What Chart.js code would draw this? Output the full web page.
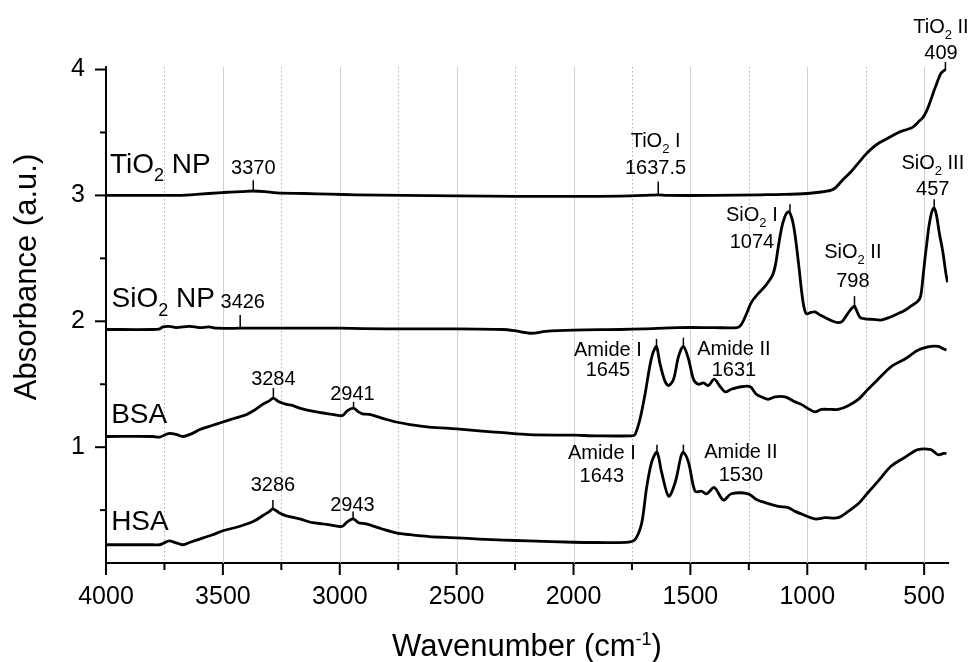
<!DOCTYPE html>
<html>
<head>
<meta charset="utf-8">
<script src="https://cdn.jsdelivr.net/npm/chart.js@4.4.1/dist/chart.umd.min.js"></script>
<style>
html, body { margin: 0; padding: 0; background: #fff; }
</style>
</head>
<body>
<canvas id="ftir" width="973" height="662"></canvas>
<script>
// spectra (wavenumber in cm-1, absorbance offset per sample)
const tio2Wn = [4000, 3800, 3700, 3640, 3560, 3480, 3420, 3370, 3320, 3270, 3150, 3044, 2930, 2725, 2500, 2235, 2000, 1800, 1700, 1637.5, 1600, 1400, 1200, 1100, 1000, 950, 900, 880, 850, 812, 780, 753, 720, 690, 660, 640, 610, 580, 550, 527, 505, 490, 475, 460, 450, 440, 428, 416, 409]
const tio2Abs = [3.0, 3.0, 3.0, 3.005, 3.015, 3.025, 3.03, 3.035, 3.03, 3.02, 3.015, 3.01, 3.005, 3.0, 2.997, 2.992, 2.992, 2.995, 3.0, 3.005, 3.0, 3.0, 3.005, 3.008, 3.015, 3.025, 3.04, 3.06, 3.12, 3.19, 3.26, 3.32, 3.38, 3.42, 3.45, 3.47, 3.50, 3.52, 3.54, 3.58, 3.62, 3.67, 3.74, 3.82, 3.87, 3.92, 3.97, 3.99, 4.0]

const sio2Wn = [4000, 3800, 3770, 3757, 3730, 3700, 3670, 3640, 3600, 3560, 3526, 3426, 3300, 3000, 2800, 2500, 2300, 2250, 2180, 2120, 2000, 1800, 1700, 1553, 1400, 1300, 1282, 1260, 1239, 1210, 1180, 1150, 1137, 1125, 1110, 1098, 1088, 1078, 1066, 1055, 1045, 1035, 1025, 1015, 1004, 985, 967, 945, 924, 890, 868, 850, 838, 820, 806, 798, 790, 774, 753, 720, 685, 650, 613, 580, 557, 527, 515, 505, 497, 488, 480, 470, 463, 457, 448, 435, 420, 407, 400]
const sio2Abs = [1.935, 1.935, 1.94, 1.955, 1.96, 1.95, 1.955, 1.96, 1.95, 1.955, 1.945, 1.945, 1.945, 1.945, 1.94, 1.94, 1.935, 1.925, 1.905, 1.92, 1.93, 1.935, 1.94, 1.95, 1.95, 1.95, 1.975, 2.06, 2.15, 2.22, 2.28, 2.36, 2.44, 2.58, 2.74, 2.82, 2.86, 2.87, 2.82, 2.72, 2.58, 2.42, 2.25, 2.12, 2.06, 2.07, 2.075, 2.05, 2.03, 2.0, 1.99, 2.0, 2.03, 2.08, 2.11, 2.12, 2.09, 2.03, 2.02, 2.015, 2.01, 2.03, 2.06, 2.09, 2.12, 2.16, 2.2, 2.35, 2.49, 2.63, 2.75, 2.85, 2.89, 2.9, 2.85, 2.70, 2.55, 2.38, 2.31]

const bsaWn = [4000, 3800, 3770, 3745, 3727, 3697, 3670, 3630, 3599, 3550, 3500, 3450, 3398, 3360, 3330, 3300, 3284, 3260, 3228, 3200, 3172, 3100, 3031, 3000, 2985, 2967, 2941, 2920, 2903, 2874, 2844, 2800, 2759, 2700, 2618, 2500, 2404, 2300, 2191, 2000, 1900, 1751, 1737, 1716, 1695, 1674, 1660, 1645, 1631, 1610, 1593, 1572, 1551, 1530, 1508, 1487, 1466, 1444, 1423, 1398, 1372, 1351, 1325, 1282, 1244, 1218, 1197, 1167, 1138, 1095, 1052, 1026, 990, 967, 940, 900, 868, 825, 782, 740, 697, 641, 582, 527, 471, 440, 416, 405]
const bsaAbs = [1.085, 1.085, 1.08, 1.1, 1.11, 1.10, 1.085, 1.11, 1.14, 1.17, 1.20, 1.23, 1.26, 1.30, 1.34, 1.37, 1.39, 1.36, 1.34, 1.33, 1.31, 1.28, 1.26, 1.25, 1.255, 1.29, 1.31, 1.28, 1.265, 1.26, 1.245, 1.22, 1.20, 1.18, 1.16, 1.145, 1.13, 1.115, 1.10, 1.095, 1.09, 1.09, 1.10, 1.22, 1.41, 1.64, 1.75, 1.80, 1.67, 1.53, 1.49, 1.54, 1.72, 1.80, 1.70, 1.54, 1.50, 1.51, 1.49, 1.54, 1.48, 1.44, 1.46, 1.48, 1.48, 1.42, 1.40, 1.38, 1.40, 1.40, 1.36, 1.34, 1.30, 1.28, 1.30, 1.30, 1.30, 1.33, 1.38, 1.46, 1.54, 1.64, 1.70, 1.77, 1.80, 1.80, 1.78, 1.77]

const hsaWn = [4000, 3800, 3770, 3762, 3740, 3727, 3700, 3671, 3640, 3599, 3550, 3500, 3450, 3398, 3360, 3330, 3300, 3286, 3260, 3228, 3172, 3115, 3050, 3001, 2985, 2972, 2943, 2920, 2887, 2818, 2759, 2700, 2618, 2500, 2404, 2300, 2191, 2000, 1900, 1764, 1735, 1708, 1688, 1666, 1643, 1623, 1593, 1565, 1540, 1530, 1508, 1480, 1452, 1430, 1398, 1359, 1325, 1253, 1218, 1180, 1124, 1082, 1052, 1026, 967, 924, 868, 825, 782, 740, 697, 641, 582, 527, 471, 441, 416, 405]
const hsaAbs = [0.225, 0.225, 0.225, 0.23, 0.25, 0.256, 0.24, 0.225, 0.245, 0.27, 0.30, 0.336, 0.36, 0.39, 0.42, 0.455, 0.49, 0.51, 0.48, 0.455, 0.43, 0.40, 0.385, 0.37, 0.375, 0.40, 0.43, 0.40, 0.39, 0.35, 0.32, 0.305, 0.29, 0.28, 0.27, 0.262, 0.256, 0.245, 0.243, 0.245, 0.27, 0.40, 0.67, 0.88, 0.96, 0.80, 0.61, 0.72, 0.93, 0.96, 0.88, 0.65, 0.65, 0.63, 0.68, 0.58, 0.63, 0.63, 0.585, 0.56, 0.53, 0.52, 0.49, 0.47, 0.43, 0.44, 0.44, 0.49, 0.55, 0.64, 0.73, 0.85, 0.92, 0.98, 0.98, 0.94, 0.95, 0.95]

// sample names and peak labels ('_2' = subscript 2)
const sampleNames = ['TiO_2 NP', 'SiO_2 NP', 'BSA', 'HSA']
const peakTexts = [
    ['3370'], ['3426'], ['3284'], ['2941'], ['3286'], ['2943'],
    ['TiO_2 I', '1637.5'], ['TiO_2 II', '409'],
    ['SiO_2 I', '1074'], ['SiO_2 II', '798'], ['SiO_2 III', '457'],
    ['Amide I', '1645'], ['Amide II', '1631'], ['Amide I', '1643'], ['Amide II', '1530']
]
const peakMarks = [3370, 3426, 3284, 2941, 3286, 2943, 1637.5, 409, 1074, 798, 457, 1645, 1530, 1643, 1530]

// where the labels sit (data units: x = wavenumber, y = absorbance)
const nameSpots = [[3983, 3.26], [3976, 2.19], [3978, 1.27], [3978, 0.42]]
const peakSpots = [
    { x: 3370, y: [3.23], t: [3.04, 3.12] },
    { x: 3415, y: [2.16], t: [1.95, 2.05] },
    { x: 3284, y: [1.555], t: [1.39, 1.47] },
    { x: 2946, y: [1.43], t: [1.31, 1.36] },
    { x: 3286, y: [0.71], t: [0.51, 0.58] },
    { x: 2946, y: [0.55], t: [0.43, 0.49] },
    { x: 1649, y: [3.44, 3.23], t: [3.0, 3.11] },
    { x: 428, y: [4.35, 4.14], t: [3.99, 4.06] },
    { x: 1237, y: [2.85, 2.64], t: [2.87, 2.93] },
    { x: 805, y: [2.56, 2.33], t: [2.12, 2.20] },
    { x: 463, y: [3.27, 3.06], t: [2.90, 2.97] },
    { x: 1853, y: [1.78, 1.62], t: [1.80, 1.86] },
    { x: 1314, y: [1.79, 1.62], t: [1.80, 1.87] },
    { x: 1879, y: [0.96, 0.78], t: [0.96, 1.02] },
    { x: 1284, y: [0.97, 0.79], t: [0.96, 1.02] }
]

const FONT = 'Liberation Sans, Arial, sans-serif'
Chart.defaults.font.family = FONT
Chart.defaults.color = '#000'

function toPoints(wn, ab){
    return wn.map((w, i) => ({ x: w, y: ab[i] }))
}

function splitSub(str){
    const out = []
    let buf = ''
    for(let i = 0; i < str.length; i++){
        if(str[i] === '_'){
            if(buf) out.push({ t: buf, sub: false })
            buf = ''
            out.push({ t: str[i + 1], sub: true })
            i++
        } else buf += str[i]
    }
    if(buf) out.push({ t: buf, sub: false })
    return out
}

// draws text with subscripts, y = visual centre of capitals
function drawRich(ctx, str, x, y, size, align){
    const parts = splitSub(str)
    const subSize = Math.round(size * 0.63)
    let w = 0
    parts.forEach(p => {
        ctx.font = (p.sub ? subSize : size) + 'px ' + FONT
        p.w = ctx.measureText(p.t).width
        w += p.w
    })
    let cx = align === 'left' ? x : x - w / 2
    const base = y + 0.36 * size
    ctx.textAlign = 'left'
    ctx.textBaseline = 'alphabetic'
    parts.forEach(p => {
        ctx.font = (p.sub ? subSize : size) + 'px ' + FONT
        ctx.fillText(p.t, cx, p.sub ? base + size * 0.3 : base)
        cx += p.w
    })
}

const gridPlugin = {
    id: 'vgrid',
    beforeDatasetsDraw(chart){
        const { ctx, chartArea, scales: { x } } = chart
        ctx.save()
        x.ticks.forEach(t => {
            if(t.value >= 4000) return
            const px = Math.round(x.getPixelForValue(t.value)) + 0.5
            const major = t.value % 500 === 0
            ctx.strokeStyle = major ? '#cfcfcf' : '#b0b0b0'
            ctx.lineWidth = 1
            ctx.setLineDash(major ? [] : [1.5, 2.5])
            ctx.beginPath()
            ctx.moveTo(px, chartArea.top)
            ctx.lineTo(px, chartArea.bottom)
            ctx.stroke()
        })
        ctx.restore()
    }
}

const decorPlugin = {
    id: 'decor',
    afterDraw(chart){
        const { ctx, scales: { x, y } } = chart
        ctx.save()
        ctx.strokeStyle = '#000'
        ctx.fillStyle = '#000'
        ctx.lineWidth = 2

        // tick marks (major longer than minor)
        x.ticks.forEach(t => {
            const px = x.getPixelForValue(t.value)
            const len = t.value % 500 ? 7 : 12
            ctx.beginPath(); ctx.moveTo(px, x.top); ctx.lineTo(px, x.top + len); ctx.stroke()
        })
        y.ticks.forEach(t => {
            const py = y.getPixelForValue(t.value)
            const len = Number.isInteger(t.value) ? 11 : 6
            ctx.beginPath(); ctx.moveTo(y.right - len, py); ctx.lineTo(y.right, py); ctx.stroke()
        })

        // sample names
        sampleNames.forEach((n, i) => {
            drawRich(ctx, n, x.getPixelForValue(nameSpots[i][0]), y.getPixelForValue(nameSpots[i][1]), 28, 'left')
        })

        // peak labels with small markers
        ctx.lineWidth = 1.5
        peakTexts.forEach((lines, i) => {
            const s = peakSpots[i]
            const px = x.getPixelForValue(s.x)
            lines.forEach((l, j) => drawRich(ctx, l, px, y.getPixelForValue(s.y[j]), 20, 'center'))
            const mx = x.getPixelForValue(peakMarks[i])
            ctx.beginPath()
            ctx.moveTo(mx, y.getPixelForValue(s.t[0]))
            ctx.lineTo(mx, y.getPixelForValue(s.t[1]))
            ctx.stroke()
        })

        // axis titles
        ctx.textBaseline = 'alphabetic'
        const main = 'Wavenumber (cm'
        ctx.font = '31px ' + FONT
        const w1 = ctx.measureText(main).width
        ctx.font = '18px ' + FONT
        const w2 = ctx.measureText('-1').width
        ctx.font = '31px ' + FONT
        const w3 = ctx.measureText(')').width
        const cx = (x.left + x.right) / 2
        let sx = cx - (w1 + w2 + w3) / 2
        ctx.textAlign = 'left'
        ctx.fillText(main, sx, 656)
        ctx.font = '18px ' + FONT
        ctx.fillText('-1', sx + w1, 645)
        ctx.font = '31px ' + FONT
        ctx.fillText(')', sx + w1 + w2, 656)

        ctx.translate(36, 277)
        ctx.rotate(-Math.PI / 2)
        ctx.textAlign = 'center'
        ctx.fillText('Absorbance (a.u.)', 0, 0)
        ctx.restore()
    }
}

const lineStyle = { borderColor: '#000', borderWidth: 2.8, pointRadius: 0, tension: 0.3, fill: false }

new Chart(document.getElementById('ftir'), {
    type: 'line',
    data: {
        datasets: [
            { label: 'TiO2 NP', data: toPoints(tio2Wn, tio2Abs), ...lineStyle },
            { label: 'SiO2 NP', data: toPoints(sio2Wn, sio2Abs), ...lineStyle },
            { label: 'BSA', data: toPoints(bsaWn, bsaAbs), ...lineStyle },
            { label: 'HSA', data: toPoints(hsaWn, hsaAbs), ...lineStyle }
        ]
    },
    options: {
        responsive: false,
        animation: false,
        devicePixelRatio: 1,
        layout: { padding: { top: 67, right: 25, left: 0, bottom: 0 } },
        plugins: { legend: { display: false }, tooltip: { enabled: false } },
        scales: {
            x: {
                type: 'linear',
                reverse: true,
                min: 398,
                max: 4000,
                afterFit: s => { s.height = 99 },
                border: { color: '#000', width: 2 },
                grid: { drawTicks: false, drawOnChartArea: false },
                ticks: {
                    stepSize: 250,
                    includeBounds: false,
                    autoSkip: false,
                    maxRotation: 0,
                    padding: 19,
                    font: { size: 25 },
                    callback: v => v % 500 === 0 ? String(v) : ''
                }
            },
            y: {
                min: 0.08,
                max: 4.02,
                afterFit: s => { s.width = 106 },
                border: { color: '#000', width: 2 },
                grid: { drawOnChartArea: false, drawTicks: false },
                ticks: {
                    stepSize: 0.5,
                    includeBounds: false,
                    padding: 21,
                    font: { size: 25 },
                    callback: v => Number.isInteger(v) ? String(v) : ''
                }
            }
        }
    },
    plugins: [gridPlugin, decorPlugin]
})
</script>
</body>
</html>
